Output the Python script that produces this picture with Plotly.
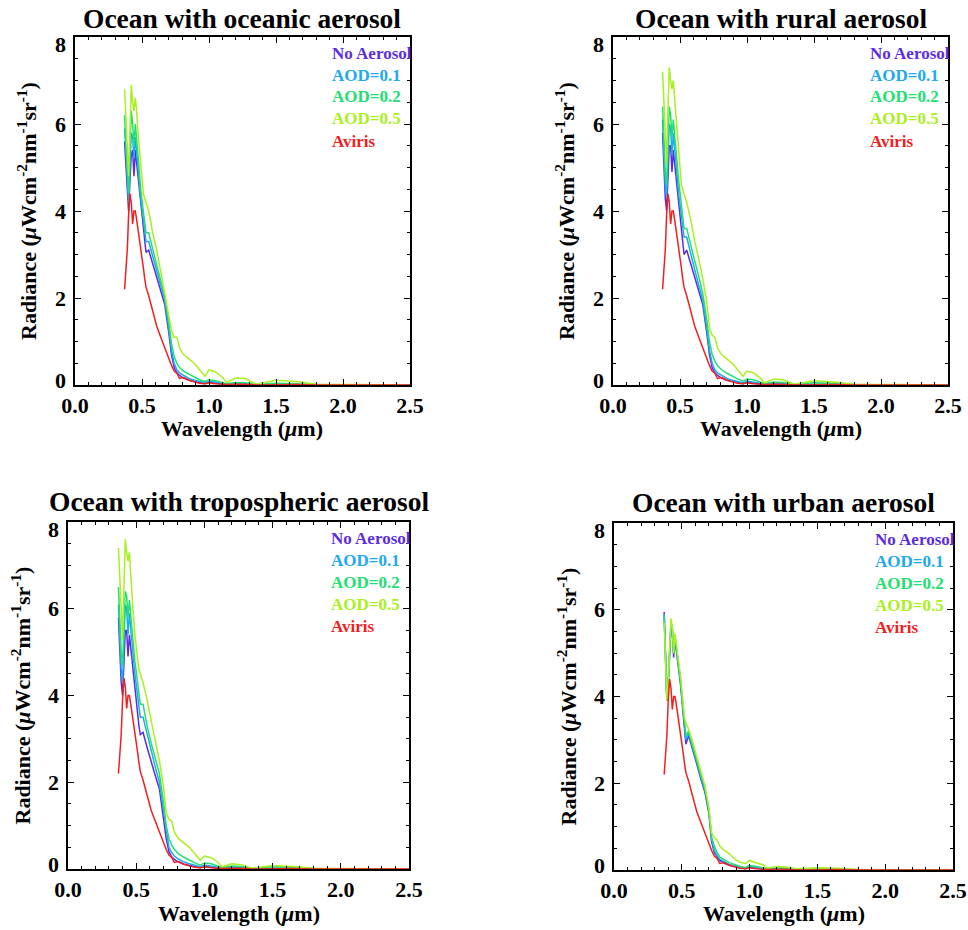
import plotly.graph_objects as go

# ---- data (wavelength in micrometres, radiance) ----
WL = [0.37, 0.38, 0.39, 0.40, 0.41, 0.42, 0.43, 0.44, 0.45, 0.46, 0.47,
      0.49, 0.51, 0.52, 0.53, 0.55,
      0.58, 0.61, 0.64, 0.67, 0.70,
      0.72, 0.74, 0.76, 0.78, 0.81,
      0.85, 0.89, 0.93, 0.97, 1.00,
      1.05, 1.10, 1.13, 1.20, 1.27,
      1.35, 1.50, 1.65, 1.80, 2.10, 2.50]

# measured spectrum, same in every panel
AVIRIS = [2.2, 2.6, 3.1, 3.9, 4.4, 4.2, 3.7, 4.0, 4.0, 3.8, 3.6,
          3.2, 2.7, 2.45, 2.25, 2.05,
          1.7, 1.35, 1.1, 0.85, 0.6,
          0.45, 0.32, 0.27, 0.15, 0.17,
          0.11, 0.07, 0.04, 0.03, 0.05,
          0.03, 0.02, 0.01, 0.02, 0.02,
          0.0, 0.01, 0.01, 0.0, 0.0, 0.0]

# oceanic aerosol
NOAER_OC = [5.6, 5.0, 4.3, 4.0, 4.7, 5.3, 5.4, 4.8, 5.4, 5.1, 4.7,
            4.1, 3.6, 3.3, 3.05, 3.1,
            2.8, 2.45, 2.15, 1.85, 1.2,
            0.7, 0.4, 0.28, 0.22, 0.16,
            0.11, 0.08, 0.05, 0.03, 0.06,
            0.05, 0.03, 0.01, 0.03, 0.02,
            0.0, 0.01, 0.01, 0.0, 0.0, 0.0]
AOD01_OC = [5.9, 5.3, 4.5, 4.2, 5.0, 5.8, 5.7, 5.2, 5.7, 5.4, 5.0,
            4.3, 3.8, 3.5, 3.3, 3.3,
            2.95, 2.6, 2.25, 1.95, 1.3,
            0.8, 0.5, 0.35, 0.28, 0.22,
            0.15, 0.11, 0.08, 0.05, 0.08,
            0.07, 0.04, 0.02, 0.04, 0.03,
            0.0, 0.02, 0.01, 0.0, 0.0, 0.0]
AOD02_OC = [6.2, 5.6, 4.8, 4.4, 5.4, 6.3, 6.0, 5.5, 6.0, 5.7, 5.3,
            4.5, 4.0, 3.7, 3.5, 3.5,
            3.1, 2.75, 2.4, 2.05, 1.45,
            0.95, 0.65, 0.5, 0.4, 0.32,
            0.25, 0.18, 0.12, 0.08, 0.12,
            0.1, 0.06, 0.03, 0.06, 0.05,
            0.01, 0.04, 0.03, 0.01, 0.0, 0.0]
AOD05_OC = [6.8, 6.0, 5.2, 4.8, 5.8, 6.9, 6.5, 6.3, 6.6, 6.3, 5.8,
            5.0, 4.4, 4.3, 4.2, 4.0,
            3.5, 3.1, 2.6, 2.1, 1.6,
            1.25, 1.1, 1.1, 0.85, 0.7,
            0.6, 0.5, 0.35, 0.2, 0.35,
            0.3, 0.18, 0.06, 0.16, 0.15,
            0.02, 0.11, 0.08, 0.02, 0.01, 0.0]

# rural aerosol
NOAER_RU = [5.8, 5.1, 4.3, 4.0, 4.8, 5.5, 5.5, 4.9, 5.4, 5.1, 4.7,
            4.1, 3.6, 3.2, 3.0, 3.1,
            2.8, 2.45, 2.15, 1.85, 1.2,
            0.7, 0.4, 0.28, 0.22, 0.16,
            0.11, 0.08, 0.05, 0.03, 0.06,
            0.05, 0.03, 0.01, 0.03, 0.02,
            0.0, 0.01, 0.01, 0.0, 0.0, 0.0]
AOD01_RU = [6.1, 5.4, 4.6, 4.3, 5.2, 6.0, 5.9, 5.3, 5.8, 5.5, 5.1,
            4.4, 3.9, 3.6, 3.4, 3.4,
            3.0, 2.65, 2.3, 1.95, 1.3,
            0.8, 0.5, 0.35, 0.28, 0.22,
            0.15, 0.11, 0.08, 0.05, 0.09,
            0.07, 0.04, 0.02, 0.05, 0.04,
            0.0, 0.02, 0.02, 0.0, 0.0, 0.0]
AOD02_RU = [6.4, 5.7, 4.9, 4.6, 5.6, 6.4, 6.2, 5.7, 6.1, 5.8, 5.4,
            4.7, 4.1, 3.8, 3.6, 3.6,
            3.2, 2.85, 2.5, 2.1, 1.5,
            1.0, 0.7, 0.55, 0.45, 0.35,
            0.27, 0.2, 0.14, 0.09, 0.14,
            0.12, 0.07, 0.03, 0.07, 0.06,
            0.01, 0.05, 0.04, 0.01, 0.0, 0.0]
AOD05_RU = [7.2, 6.4, 5.5, 5.1, 6.3, 7.3, 7.0, 6.8, 7.0, 6.6, 6.1,
            5.2, 4.6, 4.5, 4.4, 4.2,
            3.8, 3.3, 2.9, 2.45, 1.9,
            1.3, 1.15, 1.1, 0.85, 0.7,
            0.6, 0.5, 0.35, 0.2, 0.32,
            0.28, 0.16, 0.05, 0.14, 0.12,
            0.02, 0.1, 0.07, 0.02, 0.01, 0.0]

# tropospheric aerosol
NOAER_TR = [5.8, 5.1, 4.3, 4.0, 4.8, 5.5, 5.5, 4.9, 5.4, 5.1, 4.7,
            4.1, 3.6, 3.3, 3.1, 3.15,
            2.8, 2.45, 2.15, 1.85, 1.2,
            0.7, 0.4, 0.28, 0.22, 0.16,
            0.11, 0.08, 0.05, 0.03, 0.06,
            0.05, 0.03, 0.01, 0.03, 0.02,
            0.0, 0.01, 0.01, 0.0, 0.0, 0.0]
AOD01_TR = [6.1, 5.4, 4.6, 4.3, 5.3, 6.1, 6.0, 5.4, 5.9, 5.6, 5.2,
            4.5, 4.0, 3.7, 3.5, 3.5,
            3.1, 2.7, 2.35, 2.0, 1.35,
            0.85, 0.5, 0.38, 0.3, 0.23,
            0.16, 0.12, 0.08, 0.05, 0.09,
            0.07, 0.04, 0.02, 0.05, 0.04,
            0.0, 0.02, 0.02, 0.0, 0.0, 0.0]
AOD02_TR = [6.5, 5.8, 5.0, 4.7, 5.8, 6.4, 6.3, 5.8, 6.2, 5.9, 5.5,
            4.8, 4.3, 4.0, 3.8, 3.8,
            3.3, 2.9, 2.55, 2.2, 1.55,
            1.0, 0.7, 0.55, 0.45, 0.35,
            0.27, 0.2, 0.14, 0.09, 0.14,
            0.12, 0.07, 0.03, 0.07, 0.06,
            0.01, 0.05, 0.04, 0.01, 0.0, 0.0]
AOD05_TR = [7.4, 6.6, 5.7, 5.3, 6.5, 7.6, 7.3, 7.1, 7.3, 6.9, 6.3,
            5.4, 4.8, 4.6, 4.5, 4.3,
            3.9, 3.4, 2.95, 2.5, 1.9,
            1.3, 1.15, 1.1, 0.85, 0.7,
            0.6, 0.5, 0.35, 0.2, 0.3,
            0.26, 0.15, 0.05, 0.12, 0.1,
            0.02, 0.08, 0.06, 0.02, 0.01, 0.0]

# urban aerosol
NOAER_UR = [5.95, 4.8, 3.9, 4.3, 5.0, 5.6, 5.5, 4.9, 5.3, 5.1, 4.8,
            4.3, 3.6, 3.3, 2.9, 3.1,
            2.8, 2.45, 2.1, 1.8, 1.3,
            0.65, 0.4, 0.3, 0.22, 0.16,
            0.11, 0.08, 0.05, 0.03, 0.06,
            0.05, 0.03, 0.01, 0.03, 0.02,
            0.0, 0.01, 0.01, 0.0, 0.0, 0.0]
AOD01_UR = [5.9, 4.8, 3.9, 4.3, 5.1, 5.65, 5.55, 5.0, 5.35, 5.15, 4.85,
            4.35, 3.65, 3.35, 3.0, 3.15,
            2.85, 2.5, 2.15, 1.85, 1.35,
            0.7, 0.45, 0.33, 0.25, 0.19,
            0.13, 0.1, 0.06, 0.04, 0.08,
            0.06, 0.04, 0.02, 0.04, 0.03,
            0.0, 0.02, 0.01, 0.0, 0.0, 0.0]
AOD02_UR = [5.85, 4.8, 3.95, 4.35, 5.15, 5.7, 5.6, 5.0, 5.4, 5.2, 4.9,
            4.4, 3.7, 3.4, 3.1, 3.2,
            2.9, 2.55, 2.2, 1.9, 1.4,
            0.75, 0.55, 0.4, 0.3, 0.24,
            0.17, 0.13, 0.08, 0.06, 0.11,
            0.08, 0.05, 0.03, 0.05, 0.04,
            0.01, 0.03, 0.02, 0.0, 0.0, 0.0]
AOD05_UR = [5.7, 4.7, 3.9, 4.4, 5.2, 5.8, 5.6, 5.0, 5.45, 5.25, 4.95,
            4.5, 3.8, 3.5, 3.4, 3.25,
            2.95, 2.6, 2.25, 1.95, 1.45,
            0.85, 0.75, 0.7, 0.55, 0.46,
            0.38, 0.25, 0.18, 0.15, 0.22,
            0.16, 0.12, 0.04, 0.08, 0.07,
            0.03, 0.05, 0.04, 0.01, 0.0, 0.0]

TITLES = ["Ocean with oceanic aerosol", "Ocean with rural aerosol",
          "Ocean with tropospheric aerosol", "Ocean with urban aerosol"]
MODELS = [[NOAER_OC, AOD01_OC, AOD02_OC, AOD05_OC],
          [NOAER_RU, AOD01_RU, AOD02_RU, AOD05_RU],
          [NOAER_TR, AOD01_TR, AOD02_TR, AOD05_TR],
          [NOAER_UR, AOD01_UR, AOD02_UR, AOD05_UR]]
NAMES = ["No Aerosol", "AOD=0.1", "AOD=0.2", "AOD=0.5", "Aviris"]
COLORS = ["#5a2ee0", "#20a8f0", "#20e070", "#a8f020", "#f02020"]

X_TICKS = [0.0, 0.5, 1.0, 1.5, 2.0, 2.5]
Y_TICKS = [0, 2, 4, 6, 8]
X_TITLE = "<b>Wavelength (<i>μ</i>m)</b>"
Y_TITLE = "<b>Radiance (<i>μ</i>Wcm<sup>-2</sup>nm<sup>-1</sup>sr<sup>-1</sup>)</b>"

# ---- layout helpers (page pixels -> paper fractions) ----
FONT = "Liberation Serif, Times New Roman, serif"
FW, FH = 968, 930
BOXES = [(75, 410, 37, 385), (613, 948, 37, 385),
         (68, 409, 522, 869), (614, 953, 523, 870)]
TITLE_Y = [18, 18, 501, 502]
XTITLE_Y = [428, 428, 913, 913]


def px_x(x):
    return x / FW


def px_y(y):
    return 1 - y / FH


fig = go.Figure()
annotations = []


def note(text, x, y, size, color="black", xanchor="center", angle=0):
    annotations.append(dict(
        text=text, xref="paper", yref="paper", x=px_x(x), y=px_y(y),
        xanchor=xanchor, yanchor="middle", textangle=angle, showarrow=False,
        font=dict(family=FONT, size=size, color=color)))


for i, (title, models) in enumerate(zip(TITLES, MODELS)):
    n = "" if i == 0 else str(i + 1)
    x0, x1, y0, y1 = BOXES[i]
    series = models + [AVIRIS]
    for name, color, vals in zip(NAMES, COLORS, series):
        fig.add_trace(go.Scatter(
            x=WL, y=vals, mode="lines", name=name, showlegend=False,
            line=dict(color=color, width=1.5),
            xaxis="x" + n, yaxis="y" + n))

    common = dict(
        showline=True, linecolor="black", linewidth=1.5, mirror="ticks",
        ticks="inside", ticklen=6, tickwidth=1.2, tickcolor="black",
        showgrid=False, zeroline=False, automargin=False,
        ticklabeloverflow="allow",
        tickfont=dict(family=FONT, size=22, color="black", weight="bold"),
    )
    fig.update_layout(**{
        "xaxis" + n: dict(
            common, domain=[px_x(x0), px_x(x1)], anchor="y" + n,
            range=[0, 2.5], tickvals=X_TICKS, ticktext=[f"{v:.1f}" for v in X_TICKS],
            minor=dict(dtick=0.1, ticks="inside", ticklen=3, tickcolor="black"),
            ticklabelstandoff=0),
        "yaxis" + n: dict(
            common, domain=[px_y(y1), px_y(y0)], anchor="x" + n,
            range=[0, 8], tickvals=Y_TICKS, showticklabels=False,
            minor=dict(dtick=0.5, ticks="inside", ticklen=3, tickcolor="black")),
    })

    # y tick labels: the end labels sit just inside the axis range, as in the original
    for v in Y_TICKS:
        shift = -7 if v == Y_TICKS[-1] else (5 if v == Y_TICKS[0] else 0)
        annotations.append(dict(
            text=f"<b>{v}</b>", xref=f"x{n} domain", yref="y" + n, x=0, y=v,
            xanchor="right", yanchor="middle", xshift=-7, yshift=shift,
            showarrow=False, font=dict(family=FONT, size=22, color="black")))

    # panel title, axis titles, coloured legend text
    note("<b>" + title + "</b>", (x0 + x1) / 2, TITLE_Y[i], 27.5)
    note(X_TITLE, (x0 + x1) / 2, XTITLE_Y[i], 22)
    note(Y_TITLE, x0 - 48, (y0 + y1) / 2, 22, angle=-90)
    for k, (name, color) in enumerate(zip(NAMES, COLORS)):
        note("<b>" + name + "</b>", x1 - 80, y0 + 16 + 22 * k, 17,
             color=color, xanchor="left")

fig.update_layout(
    width=FW, height=FH,
    margin=dict(l=0, r=0, t=0, b=0),
    paper_bgcolor="white", plot_bgcolor="white",
    annotations=annotations,
    showlegend=False,
)

# drop the default 8px page margin so the figure fills the window exactly
fig.write_html("out.html", config={"displayModeBar": False},
               post_script="document.body.style.margin = '0';")
